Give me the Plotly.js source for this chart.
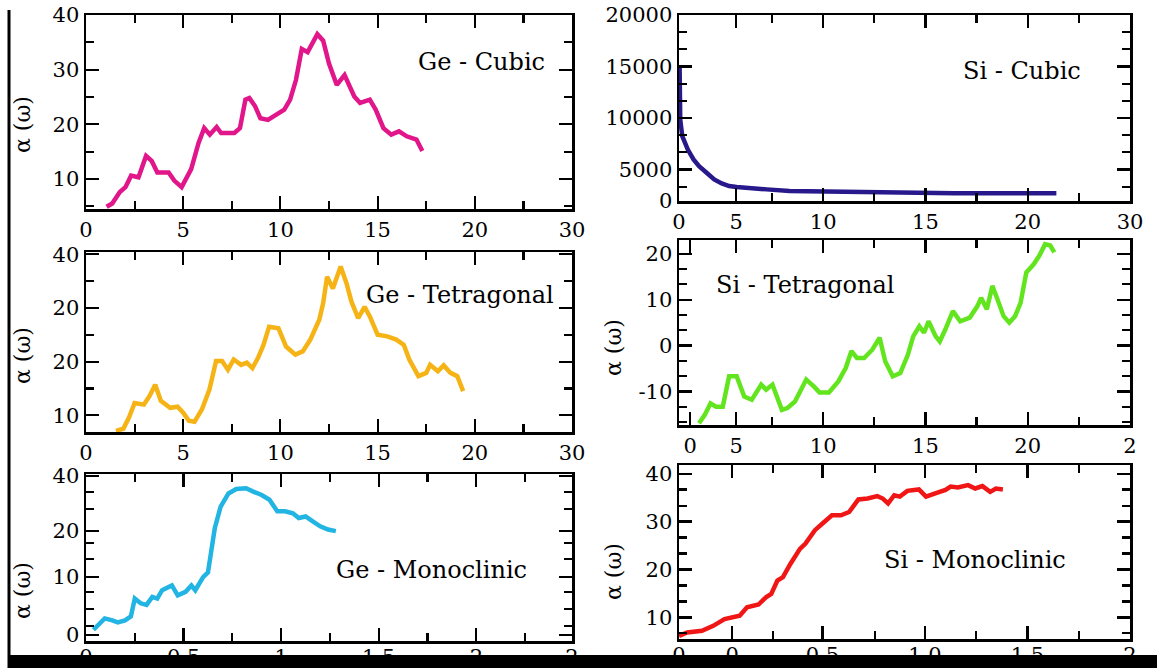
<!DOCTYPE html>
<html>
<head>
<meta charset="utf-8">
<script src="https://cdn.plot.ly/plotly-3.0.1.min.js"></script>
<style>html,body{margin:0;padding:0;background:#fff;}#chart{width:1157px;height:668px;}</style>
</head>
<body>
<div id="chart"></div>
<script>
// ---------- data ----------
const geCubicX = [1.06,1.35,1.74,2.03,2.32,2.70,3.09,3.38,3.67,4.25,4.54,4.92,5.41,5.79,6.08,6.37,6.72,6.95,7.63,7.92,8.2,8.4,8.7,8.97,9.36,9.85,10.2,10.5,10.8,11.1,11.4,11.9,12.2,12.5,12.9,13.3,13.8,14.1,14.6,14.9,15.3,15.7,16.1,16.5,17.0,17.3];
const geCubicY = [4.9,5.5,7.6,8.5,10.6,10.3,14.2,13.3,11.2,11.2,9.7,8.5,11.8,16.6,19.3,18.1,19.5,18.4,18.4,19.3,24.5,24.8,23.3,21.1,20.8,22.0,22.7,24.5,28.1,33.8,33.2,36.5,35.3,31.1,27.2,29.0,25.1,23.9,24.5,22.7,19.3,18.1,18.7,17.8,17.2,15.1];

const siCubicX = [2.98,3.0,3.01,3.11,3.38,3.66,3.93,4.30,4.67,5.04,5.40,5.77,6.51,7.24,8.35,10.0,12.76,13.68,16.43,20.11,21.4];
const siCubicY = [15000,11774,9839,8226,6935,5968,5323,4677,4032,3645,3387,3300,3226,3065,2900,2839,2800,2677,2677,2677,2677];

const geTetraX = [1.54,1.92,2.21,2.5,2.98,3.27,3.56,3.85,4.33,4.71,5.0,5.29,5.58,5.96,6.35,6.69,7.0,7.3,7.6,7.98,8.27,8.56,8.85,9.13,9.42,9.9,10.29,10.77,11.15,11.54,12.0,12.2,12.4,12.7,13.1,13.4,13.65,14.0,14.33,14.6,15.0,15.5,15.96,16.35,16.63,17.1,17.5,17.7,18.1,18.4,18.75,19.1,19.4];
const geTetraY = [7.1,7.5,9.6,12.3,12.0,13.6,15.7,12.7,11.4,11.6,10.5,9.0,8.8,11.1,14.8,20.1,20.1,18.5,20.4,19.4,19.8,18.8,20.7,23.1,26.5,26.2,22.8,21.3,21.9,24.1,27.8,30.9,35.8,33.6,37.7,34.6,31.2,28.1,30.2,28.4,25.0,24.7,24.1,23.1,20.4,17.3,17.9,19.4,18.2,19.3,17.9,17.3,14.5];

const siTetraX = [3.93,4.21,4.49,4.76,5.09,5.40,5.77,6.14,6.51,6.97,7.21,7.52,7.98,8.25,8.62,9.17,9.54,9.82,10.28,10.74,11.1,11.38,11.65,12.0,12.4,12.76,13.03,13.4,13.77,14.14,14.4,14.7,14.93,15.15,15.5,15.7,15.97,16.34,16.7,17.17,17.54,17.72,18.0,18.27,18.46,18.82,19.1,19.38,19.65,19.93,20.29,20.57,20.85,21.1,21.3];
const siTetraY = [-16.9,-15.1,-12.6,-13.3,-13.3,-6.7,-6.7,-11.1,-11.8,-8.5,-9.6,-8.5,-14.0,-13.6,-12.2,-7.4,-8.9,-10.2,-10.2,-7.8,-4.9,-1.2,-2.7,-2.7,-0.9,1.7,-3.4,-6.7,-6.0,-2.0,2.0,4.2,2.8,5.3,2.0,0.9,3.5,7.5,5.3,6.1,8.6,10.4,7.9,13.0,10.8,6.4,5.0,6.4,9.3,15.9,17.7,19.6,22.1,21.8,20.3];

const geMonoX = [0.038,0.067,0.096,0.135,0.163,0.2,0.23,0.25,0.28,0.31,0.34,0.365,0.39,0.44,0.47,0.51,0.54,0.56,0.6,0.625,0.64,0.66,0.69,0.73,0.77,0.82,0.86,0.9,0.94,0.98,1.02,1.06,1.09,1.125,1.16,1.2,1.24,1.28];
const geMonoY = [1.24,2.5,4.1,3.6,3.1,3.6,4.6,9.1,7.9,7.5,9.5,9.1,11.2,12.4,9.9,10.8,12.4,11.2,14.5,15.7,21.1,26.9,32.3,35.6,36.7,36.9,36.0,35.2,34.0,31.1,31.1,30.6,29.4,29.8,28.6,27.3,26.5,26.1];

const siMonoX = [-0.2,-0.16,-0.088,-0.033,0.022,0.059,0.096,0.132,0.188,0.224,0.25,0.28,0.307,0.344,0.39,0.417,0.463,0.5,0.546,0.59,0.63,0.675,0.72,0.767,0.794,0.82,0.85,0.877,0.914,0.97,1.005,1.05,1.1,1.125,1.16,1.21,1.245,1.28,1.318,1.346,1.38];
const siMonoY = [6.15,6.85,7.2,8.25,9.65,10.0,10.35,12.1,12.7,14.2,14.9,17.7,18.4,21.2,24.3,25.4,28.2,29.6,31.3,31.3,32.0,34.6,34.8,35.3,34.8,33.8,35.5,35.2,36.4,36.7,35.2,35.9,36.6,37.3,37.1,37.6,36.9,37.4,36.2,36.9,36.7];

// ---------- tick labels ----------
const geXTickVals = [0,5,10,15,20,25];
const geXTickText = ["0","5","10","15","20","30"];
const siCubicXTickVals = [2.95,5.75,10,15,20,25];
const siCubicXTickText = ["0","5","10","15","20","30"];
const siTetraXTickVals = [3.5,5.75,10,15,20,25];
const siTetraXTickText = ["0","5","10","15","20","2"];
const geMonoXTickVals = [0,0.5,1,1.5,2,2.49];
const geMonoXTickText = ["0","0.5","1","1.5","2","2"];
const siMonoXTickVals = [-0.2,0.059,0.5,1.0,1.5,2.0];
const siMonoXTickText = ["0","0","0.5","1.0","1.5","2"];

const geCubicYTickVals = [10,20,30,40];
const geCubicYTickText = ["10","20","30","40"];
const siCubicYTickVals = [1935,5000,10000,15000,20000];
const siCubicYTickText = ["0","5000","10000","15000","20000"];
const geTetraYTickVals = [10,20,30,40];
const geTetraYTickText = ["10","20","20","40"];
const siTetraYTickVals = [-10,0,10,20];
const siTetraYTickText = ["-10","0","10","20"];
const geMonoYTickVals = [0,14.5,26.1,40];
const geMonoYTickText = ["0","10","20","40"];
const siMonoYTickVals = [10,20,30,40];
const siMonoYTickText = ["10","20","30","40"];

const panelLabels = ["Ge - Cubic","Si - Cubic","Ge - Tetragonal","Si - Tetragonal","Ge - Monoclinic","Si - Monoclinic"];
const yTitle = "α (ω)";

// ---------- layout ----------
const W = 1157, H = 668;
const px = v => v / W;
const py = v => 1 - v / H;
const serif = "DejaVu Serif";

function axis(base) {
  return Object.assign({
    showline: true, mirror: 'ticks', linecolor: 'black', linewidth: 2.5,
    ticks: 'inside', ticklen: 13, tickwidth: 2.2, tickcolor: 'black',
    showgrid: false, zeroline: false, tickmode: 'array',
    tickfont: {family: serif, size: 21, color: 'black'},
    fixedrange: true
  }, base);
}
function minor(vals) {
  return {tickmode: 'array', tickvals: vals, ticks: 'inside', ticklen: 8, tickwidth: 2.2, tickcolor: 'black', showgrid: false};
}

const leftX = [px(86), px(572)];
const rightX = [px(679), px(1130)];

const layout = {
  width: W, height: H,
  margin: {l: 0, r: 0, t: 0, b: 0},
  paper_bgcolor: 'white', plot_bgcolor: 'white',
  showlegend: false,
  font: {family: serif, color: 'black'},
  xaxis:  axis({domain: leftX, anchor: 'y', range: [0, 25], tickvals: geXTickVals, ticktext: geXTickText, minor: minor([2.5,7.5,12.5,17.5,22.5])}),
  yaxis:  axis({domain: [py(209), py(15)], anchor: 'x', range: [4.5, 40], tickvals: geCubicYTickVals, ticktext: geCubicYTickText, minor: minor([5,15,25,35])}),
  xaxis2: axis({domain: rightX, anchor: 'y2', range: [2.95, 25], tickvals: siCubicXTickVals, ticktext: siCubicXTickText, minor: minor([7.5,12.5,17.5,22.5])}),
  yaxis2: axis({domain: [py(201), py(15)], anchor: 'x2', range: [1935, 20000], tickvals: siCubicYTickVals, ticktext: siCubicYTickText, minor: minor([3333,6667,8333,11667,13333,16667,18333])}),
  xaxis3: axis({domain: leftX, anchor: 'y3', range: [0, 25], tickvals: geXTickVals, ticktext: geXTickText, minor: minor([2.5,7.5,12.5,17.5,22.5])}),
  yaxis3: axis({domain: [py(432), py(252)], anchor: 'x3', range: [6.9, 40.4], tickvals: geTetraYTickVals, ticktext: geTetraYTickText, minor: minor([15,25,35])}),
  xaxis4: axis({domain: rightX, anchor: 'y4', range: [2.95, 25], tickvals: siTetraXTickVals, ticktext: siTetraXTickText, minor: minor([7.5,12.5,17.5,22.5])}),
  yaxis4: axis({domain: [py(425), py(240)], anchor: 'x4', range: [-17.3, 23], tickvals: siTetraYTickVals, ticktext: siTetraYTickText, minor: minor([-16.67,-13.33,-6.67,-3.33,3.33,6.67,13.33,16.67])}),
  xaxis5: axis({domain: leftX, anchor: 'y5', range: [0, 2.49], tickvals: geMonoXTickVals, ticktext: geMonoXTickText, minor: minor([0.25,0.75,1.25,1.75,2.25]), ticklabelstandoff: -5}),
  yaxis5: axis({domain: [py(641), py(474)], anchor: 'x5', range: [-1.6, 40.5], tickvals: geMonoYTickVals, ticktext: geMonoYTickText, minor: minor([2.1,6.4,10.8,19.0,23.2,31.7,35.9])}),
  xaxis6: axis({domain: rightX, anchor: 'y6', range: [-0.2, 2.0], tickvals: siMonoXTickVals, ticktext: siMonoXTickText, minor: minor([0.26,0.757,1.25,1.75]), ticklabelstandoff: -5}),
  yaxis6: axis({domain: [py(639), py(465)], anchor: 'x6', range: [5.5, 41.8], tickvals: siMonoYTickVals, ticktext: siMonoYTickText, minor: minor([6.67,13.33,16.67,23.33,26.67,33.33,36.67])}),
  annotations: [],
  shapes: [
    {type: 'line', xref: 'paper', yref: 'paper', x0: px(9), x1: px(9), y0: 0, y1: py(10), line: {color: 'black', width: 3}, layer: 'above'},
    {type: 'rect', xref: 'paper', yref: 'paper', x0: px(9), x1: 1, y0: 0, y1: py(655), fillcolor: 'black', line: {width: 0}, layer: 'above'}
  ]
};

const labelPos = [[481, 62], [1022, 71], [460, 295], [805, 285], [431, 570], [975, 560]];
panelLabels.forEach((t, i) => {
  layout.annotations.push({text: t, xref: 'paper', yref: 'paper', x: px(labelPos[i][0]), y: py(labelPos[i][1]),
    xanchor: 'center', yanchor: 'middle', showarrow: false, font: {family: serif, size: 24, color: 'black'}});
});
const yTitlePos = [[22, 124], [22, 355], [22, 590], [613, 348], [613, 572]];
yTitlePos.forEach(p => {
  layout.annotations.push({text: yTitle, xref: 'paper', yref: 'paper', x: px(p[0]), y: py(p[1]),
    xanchor: 'center', yanchor: 'middle', textangle: -90, showarrow: false, font: {family: serif, size: 22, color: 'black'}});
});

const lw = 4.5;
const traces = [
  {x: geCubicX, y: geCubicY, xaxis: 'x',  yaxis: 'y',  color: '#e0168a', name: 'Ge - Cubic'},
  {x: siCubicX, y: siCubicY, xaxis: 'x2', yaxis: 'y2', color: '#27198c', name: 'Si - Cubic'},
  {x: geTetraX, y: geTetraY, xaxis: 'x3', yaxis: 'y3', color: '#f5b316', name: 'Ge - Tetragonal'},
  {x: siTetraX, y: siTetraY, xaxis: 'x4', yaxis: 'y4', color: '#62e51e', name: 'Si - Tetragonal'},
  {x: geMonoX,  y: geMonoY,  xaxis: 'x5', yaxis: 'y5', color: '#22b4e2', name: 'Ge - Monoclinic'},
  {x: siMonoX,  y: siMonoY,  xaxis: 'x6', yaxis: 'y6', color: '#f01616', name: 'Si - Monoclinic'}
].map(t => ({type: 'scatter', mode: 'lines', x: t.x, y: t.y, xaxis: t.xaxis, yaxis: t.yaxis, name: t.name,
  line: {color: t.color, width: lw, shape: 'linear'}, cliponaxis: true, hoverinfo: 'x+y'}));

Plotly.newPlot('chart', traces, layout, {staticPlot: true, displayModeBar: false});
</script>
</body>
</html>
